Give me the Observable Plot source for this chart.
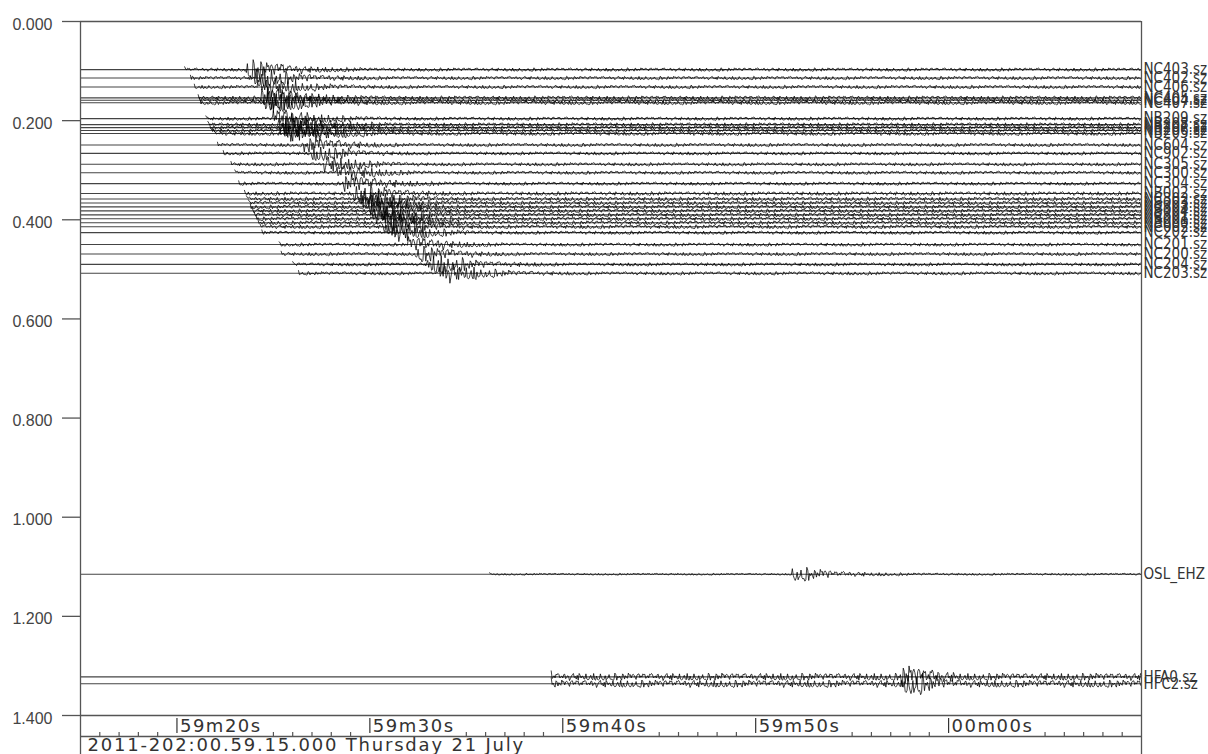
<!DOCTYPE html>
<html><head><meta charset="utf-8">
<script src="https://cdn.jsdelivr.net/npm/d3@7"></script>
<script src="https://cdn.jsdelivr.net/npm/@observablehq/plot@0.6"></script>
<style>
html,body{margin:0;padding:0;background:#fff;}
#chart svg{display:block;}
</style></head><body><div id="chart"></div>
<script>
// Station traces (offset on the vertical axis, times in s after 2011-202 00:59:15.000)
const stationNames = ["NC403.sz","NC402.sz","NC406.sz","NC405.sz","NC404.sz","NC407.sz",
  "NB209.sz","NB208.sz","NB207.sz","NB206.sz","NB205.sz",
  "NC604.sz","NC902.sz","NC305.sz","NC300.sz","NC304.sz",
  "NB002.sz","NC302.sz","NB003.sz","NC303.sz","NB004.sz","NC301.sz","NB001.sz","NB000.sz","NC002.sz","NC202.sz",
  "NC201.sz","NC200.sz","NC204.sz","NC203.sz",
  "OSL_EHZ","HFA0.sz","HFC2.sz"];
const stationOffsets = [0.097,0.114,0.132,0.154,0.159,0.164,
  0.196,0.208,0.214,0.220,0.226,
  0.249,0.266,0.288,0.305,0.327,
  0.347,0.358,0.366,0.374,0.382,0.390,0.398,0.406,0.414,0.426,
  0.450,0.469,0.490,0.508,
  1.115,1.322,1.336];
const dataStarts = [5.4,5.7,5.9,6.1,6.15,6.2,
  6.5,6.6,6.7,6.8,6.9,
  7.1,7.4,7.8,8.0,8.2,
  8.5,8.6,8.7,8.8,8.9,9.0,9.1,9.2,9.3,9.4,
  10.3,10.4,11.0,11.3,
  21.2,24.4,24.4];
const arrivals = [8.6,9.0,9.2,9.4,9.6,9.7,
  10.0,10.3,10.5,10.6,10.8,
  11.6,12.0,12.6,13.3,13.6,
  14.2,14.5,14.7,14.9,15.1,15.3,15.5,15.7,15.9,16.1,
  17.0,17.4,18.0,18.6,
  36.9,42.5,42.7];
const peakAmps = [0.020,0.020,0.020,0.022,0.022,0.022,
  0.020,0.022,0.022,0.022,0.022,
  0.016,0.016,0.016,0.016,0.018,
  0.018,0.018,0.018,0.018,0.018,0.018,0.018,0.018,0.018,0.018,
  0.016,0.016,0.020,0.020,
  0.014,0.022,0.022];
const noiseAmps = [0.0035,0.0035,0.0035,0.004,0.004,0.004,
  0.0035,0.004,0.004,0.004,0.004,
  0.0035,0.0035,0.0035,0.0035,0.0035,
  0.004,0.004,0.004,0.004,0.004,0.004,0.004,0.004,0.004,0.0035,
  0.0035,0.0035,0.0035,0.0035,
  0.0018,0.0075,0.0075];
// hand-typed wiggle shape and coda decay (fraction of peak per second after the arrival)
const wiggle = [0.2,-0.6,0.9,-0.3,0.5,-0.9,0.1,0.7,-0.4,-0.8,0.6,0.3,-0.5,1.0,-0.2,-0.7,0.8,-0.1,0.4,-1.0,
  0.6,0.2,-0.6,0.5,-0.3,0.9,-0.8,0.3,-0.1,0.6,-0.7,0.2,0.8,-0.5,-0.2,0.7,-0.9,0.4,0.1,-0.6,
  0.9,-0.4,0.3,-0.8,0.5,0.0,-0.5,0.8,-0.2,0.6,-0.9,0.3,-0.3,0.7,-0.6,0.1,0.9,-0.7,0.4,-0.2,
  0.5,-1.0,0.7,0.2,-0.4,0.8,-0.3,-0.6,0.6,-0.1,0.3,-0.8,1.0,-0.5,0.2,0.4,-0.7,0.6,-0.2,-0.4,
  0.9,-0.6,0.1,0.5,-0.9,0.7,-0.3,0.2,-0.5,0.8,-0.1,-0.7,0.4,0.6,-0.8,0.3,-0.4];
const coda = [1.0,0.7,0.45,0.33,0.26,0.22,0.19,0.17,0.16,0.15];

// axes
const yTicks = [0,0.2,0.4,0.6,0.8,1.0,1.2,1.4];
const majorTicks = [5,15,25,35,45];
const majorTickLabels = ["59m20s","59m30s","59m40s","59m50s","00m00s"];
const minorTicks = [1,2,3,4,10,11,12,13,14,20,21,22,23,24,30,31,32,33,34,40,41,42,43,44,50,51,52,53,54];
const dateLabel = "2011-202:00.59.15.000 Thursday 21 July";

const rows = stationNames.map((name,i)=>({name, offset: stationOffsets[i], start: dataStarts[i],
  arrival: arrivals[i], peak: peakAmps[i], noise: noiseAmps[i]}));
const dt = 0.05;
const samples = [];
rows.forEach((r,j)=>{
  const n = Math.floor((55 - r.start)/dt);
  for (let i=0;i<=n;i++){
    const s = r.start + i*dt;
    let a;
    if (s < r.arrival) a = r.noise;
    else {
      const k = Math.min(Math.floor(s - r.arrival), coda.length-1);
      a = Math.max(r.noise, r.peak*coda[k]);
    }
    const w = i === 0 ? -1.6 : wiggle[(i*3 + j*13) % wiggle.length];
    samples.push({name: r.name, s, v: r.offset + a*w});
  }
});

const W = 1208, H = 754, mL = 80, mR = 67, mT = 21, mB = 39;
const frameW = W - mL - mR, frameH = H - mT - mB;
const gray = "#555";
const labelFont = "'Liberation Sans Narrow','DejaVu Sans Condensed','DejaVu Sans',sans-serif";
const axisFont = "'DejaVu Sans',sans-serif";

const chart = Plot.plot({
  width: W, height: H,
  marginLeft: mL, marginRight: mR, marginTop: mT, marginBottom: mB,
  x: {domain: [0,55], axis: null},
  y: {domain: [0,1.4], reverse: true, axis: null},
  style: {background: "#fff"},
  marks: [
    Plot.ruleY(rows, {y: "offset", stroke: "#444", strokeWidth: 1.1}),
    Plot.line(samples, {x: "s", y: "v", z: "name", stroke: "#000", strokeWidth: 0.75}),
    Plot.ruleY([0,1.4], {stroke: gray, strokeWidth: 1.3}),
    Plot.ruleY(yTicks, {insetRight: frameW - 18, dx: -18, stroke: gray, strokeWidth: 1.3}),
    Plot.text(yTicks, {y: d=>d, text: d=>d3.format(".3f")(d), frameAnchor: "left", textAnchor: "end",
      dx: -28, dy: 3, fontSize: 16, fontFamily: "'Liberation Sans',Arial,sans-serif", fill: "#444"}),
    Plot.ruleX([0,55], {insetBottom: -mB, stroke: gray, strokeWidth: 1.3}),
    Plot.ruleY([1.4], {dy: 21, stroke: gray, strokeWidth: 1.3}),
    Plot.ruleX(minorTicks, {insetTop: frameH - 4, dy: 21, stroke: gray, strokeWidth: 1.2}),
    Plot.ruleX(majorTicks, {insetTop: frameH - 15, dy: 18, stroke: "#333", strokeWidth: 1.2}),
    Plot.text(majorTicks, {x: d=>d, text: (d,i)=>majorTickLabels[i], frameAnchor: "bottom", textAnchor: "start",
      lineAnchor: "top", dx: 3, dy: 4, fontSize: 18, fontFamily: axisFont, fill: "#333"}),
    Plot.text([dateLabel], {text: d=>d, frameAnchor: "bottom-left", textAnchor: "start", lineAnchor: "top",
      dx: 7, dy: 23, fontSize: 18, fontFamily: axisFont, fill: "#333"}),
    Plot.text(rows, {y: "offset", text: "name", frameAnchor: "right", textAnchor: "start", dx: 2,
      fontSize: 15, fontFamily: labelFont, fill: "#333"})
  ]
});
document.getElementById("chart").appendChild(chart);
d3.select(chart).selectAll("text").each(function(){
  const t = this.textContent;
  if (t === dateLabel) d3.select(this).attr("letter-spacing", "1.8px");
  else if (majorTickLabels.includes(t)) d3.select(this).attr("letter-spacing", "1.5px");
});
</script>
</body></html>
